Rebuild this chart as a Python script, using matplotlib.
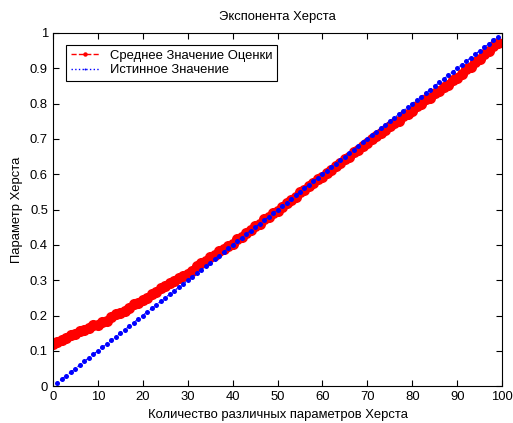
import matplotlib
matplotlib.use("Agg")
import matplotlib.pyplot as plt

plt.rcParams['font.family'] = ['Liberation Sans', 'DejaVu Sans']
plt.rcParams['font.size'] = 9.4

# mean estimate of the Hurst exponent for each test parameter
est_x = list(range(0, 100))
est_h = [
    0.120, 0.124, 0.131, 0.136, 0.145, 0.149, 0.156, 0.159, 0.166, 0.172,
    0.174, 0.181, 0.186, 0.197, 0.205, 0.208, 0.214, 0.221, 0.232, 0.236,
    0.244, 0.250, 0.262, 0.267, 0.279, 0.284, 0.293, 0.297, 0.307, 0.311,
    0.318, 0.327, 0.339, 0.348, 0.354, 0.366, 0.371, 0.383, 0.388, 0.398,
    0.404, 0.416, 0.422, 0.434, 0.441, 0.453, 0.460, 0.472, 0.478, 0.489,
    0.496, 0.506, 0.519, 0.526, 0.537, 0.549, 0.556, 0.568, 0.575, 0.587,
    0.593, 0.605, 0.612, 0.624, 0.631, 0.643, 0.650, 0.662, 0.669, 0.681,
    0.688, 0.700, 0.707, 0.718, 0.724, 0.736, 0.745, 0.752, 0.764, 0.771,
    0.780, 0.792, 0.798, 0.812, 0.817, 0.829, 0.836, 0.848, 0.854, 0.866,
    0.873, 0.885, 0.897, 0.905, 0.918, 0.927, 0.940, 0.949, 0.962, 0.972,
]

# true Hurst exponent used to generate each series
true_x = list(range(1, 100))
true_h = [
    0.01, 0.02, 0.03, 0.04, 0.05, 0.06, 0.07, 0.08, 0.09, 0.10,
    0.11, 0.12, 0.13, 0.14, 0.15, 0.16, 0.17, 0.18, 0.19, 0.20,
    0.21, 0.22, 0.23, 0.24, 0.25, 0.26, 0.27, 0.28, 0.29, 0.30,
    0.31, 0.32, 0.33, 0.34, 0.35, 0.36, 0.37, 0.38, 0.39, 0.40,
    0.41, 0.42, 0.43, 0.44, 0.45, 0.46, 0.47, 0.48, 0.49, 0.50,
    0.51, 0.52, 0.53, 0.54, 0.55, 0.56, 0.57, 0.58, 0.59, 0.60,
    0.61, 0.62, 0.63, 0.64, 0.65, 0.66, 0.67, 0.68, 0.69, 0.70,
    0.71, 0.72, 0.73, 0.74, 0.75, 0.76, 0.77, 0.78, 0.79, 0.80,
    0.81, 0.82, 0.83, 0.84, 0.85, 0.86, 0.87, 0.88, 0.89, 0.90,
    0.91, 0.92, 0.93, 0.94, 0.95, 0.96, 0.97, 0.98, 0.99,
]

fig = plt.figure(figsize=(5.13, 4.23), dpi=100)
ax = fig.add_axes([0.103, 0.087, 0.876, 0.835])

ax.plot(est_x, est_h, '--o', color='red', lw=1, markersize=8, markeredgewidth=0,
        label='Среднее Значение Оценки')
ax.plot(true_x, true_h, ':o', color='blue', lw=1, markersize=3.6, markeredgewidth=0,
        label='Истинное Значение')

ax.set_xlim(0, 100)
ax.set_ylim(0, 1)
ax.set_xticks(range(0, 101, 10))
ax.set_yticks([i / 10 for i in range(11)])
ax.set_yticklabels(['0', '0.1', '0.2', '0.3', '0.4', '0.5', '0.6', '0.7', '0.8', '0.9', '1'])
ax.tick_params(direction='in', length=4, top=True, right=True, pad=3.5, labelsize=9.4)

ax.set_title('Экспонента Херста', fontsize=9.4, pad=9)
ax.set_xlabel('Количество различных параметров Херста', fontsize=9.4, labelpad=4)
ax.set_ylabel('Параметр Херста', fontsize=9.4, labelpad=5)

leg = ax.legend(loc='upper left', bbox_to_anchor=(0.015, 0.985), fancybox=False,
                edgecolor='black', framealpha=1, handlelength=2.2, markerscale=0.4,
                borderpad=0.35, labelspacing=0.2, handletextpad=0.8, fontsize=9.4)
leg.get_frame().set_linewidth(0.8)

fig.savefig('out.png', dpi=100)
